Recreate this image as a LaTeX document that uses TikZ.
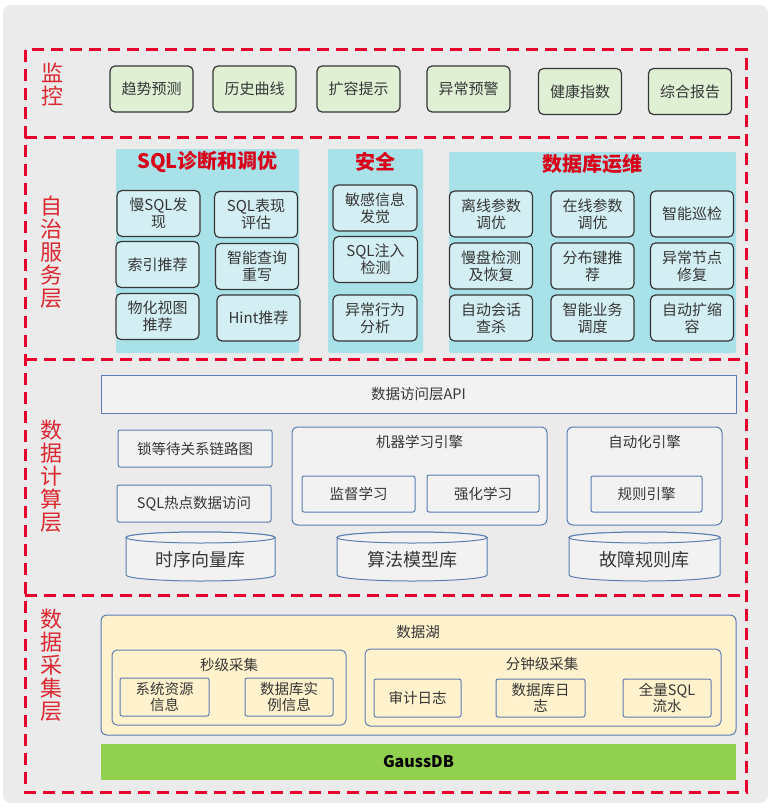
\documentclass[tikz,border=0pt]{standalone}
\usepackage{fontspec}
\setmainfont{Noto Sans CJK SC}
\definecolor{rossotratto}{HTML}{E8002D}
\definecolor{rossolivello}{HTML}{DC2830}
\definecolor{rossotitolo}{HTML}{D80018}
\definecolor{sfondo}{HTML}{EBEBEB}
\definecolor{verdino}{HTML}{DFF0D5}
\definecolor{ciano}{HTML}{A9E1E9}
\definecolor{cianino}{HTML}{D4EFF3}
\definecolor{grigino}{HTML}{F2F2F2}
\definecolor{bluastro}{HTML}{5B7DB3}
\definecolor{crema}{HTML}{FFF2CC}
\definecolor{erba}{HTML}{92D050}
\definecolor{testo}{HTML}{363636}
\begin{document}
\begin{tikzpicture}[x=1pt,y=-1pt,
    livello/.style={text=rossolivello,align=center,font=\fontsize{22}{23}\selectfont},
    tratteggio/.style={draw=rossotratto,line width=3pt,dash pattern=on 12pt off 7pt},
    monbox/.style={draw=testo,fill=verdino,rounded corners=5pt,line width=1.2pt,
        minimum width=83pt,minimum height=46pt,inner sep=1pt,text=testo,
        font=\fontsize{15}{17}\selectfont,align=center},
    autobox/.style={monbox,fill=cianino},
    titolo/.style={text=rossotitolo,font=\fontsize{20}{22}\selectfont\bfseries},
    calcbox/.style={draw=bluastro,fill=grigino,rounded corners=2pt,line width=1pt,
        inner sep=1pt,text=testo,font=\fontsize{14.5}{16}\selectfont,align=center},
    contenitore/.style={calcbox,rounded corners=6pt},
    lagobox/.style={calcbox,fill=crema},
    cil/.style={draw=bluastro,fill=grigino,line width=1pt},
    ciltesto/.style={text=testo,font=\fontsize{18}{20}\selectfont},
    etichetta/.style={text=testo,font=\fontsize{14.5}{16}\selectfont}]
    \useasboundingbox (0,0) rectangle (775,808);
    \fill[sfondo,rounded corners=8pt] (3,5) rectangle (768,803);

    %cornici tratteggiate
    \draw[tratteggio] (25,50) rectangle (746,792);
    \draw[tratteggio] (25,137) -- (746,137);
    \draw[tratteggio] (25,359) -- (746,359);
    \draw[tratteggio] (25,595) -- (746,595);

    %nomi dei livelli
    \node[livello] (lmon) at (52,85) {监\\控};
    \node[livello] (lauto) at (51,252) {自\\治\\服\\务\\层};
    \node[livello] (lcalc) at (51,476) {数\\据\\计\\算\\层};
    \node[livello] (lrac) at (51,665) {数\\据\\采\\集\\层};

    %livello monitoraggio
    \node[monbox] (trend) at (151.5,89) {趋势预测};
    \node[monbox] (storia) at (254.5,89) {历史曲线};
    \node[monbox] (espansione) at (358.5,89) {扩容提示};
    \node[monbox] (allarme) at (468.5,89) {异常预警};
    \node[monbox] (salute) at (580,91.5) {健康指数};
    \node[monbox] (report) at (690,91.5) {综合报告};

    %pannelli servizio autonomo
    \fill[ciano,rounded corners=2pt] (116,149) rectangle (299,353);
    \fill[ciano,rounded corners=2pt] (328,149) rectangle (423,353);
    \fill[ciano,rounded corners=2pt] (449,152) rectangle (736,353);
    \node[titolo] (tsql) at (207.5,162) {SQL诊断和调优};
    \node[titolo] (tsic) at (375.5,162) {安全};
    \node[titolo] (top) at (592,164) {数据库运维};

    %diagnosi sql
    \node[autobox] (lento) at (158.5,213.5) {慢SQL发\\现};
    \node[autobox] (perf) at (256,214.5) {SQL表现\\评估};
    \node[autobox] (indice) at (157.5,264.5) {索引推荐};
    \node[autobox] (riscr) at (257,266.5) {智能查询\\重写};
    \node[autobox] (vista) at (157.5,316.5) {物化视图\\推荐};
    \node[autobox] (hint) at (258.5,318) {Hint推荐};

    %sicurezza
    \node[autobox,minimum width=84pt] (sens) at (375,208) {敏感信息\\发觉};
    \node[autobox,minimum width=84pt] (iniez) at (375.5,259.5) {SQL注入\\检测};
    \node[autobox,minimum width=84pt] (comp) at (375,318) {异常行为\\分析};

    %operazioni database
    \node[autobox] (offline) at (491,214) {离线参数\\调优};
    \node[autobox] (online) at (592.5,214) {在线参数\\调优};
    \node[autobox] (ispez) at (692,214) {智能巡检};
    \node[autobox] (disco) at (491,266) {慢盘检测\\及恢复};
    \node[autobox] (chiave) at (592.5,266) {分布键推\\荐};
    \node[autobox] (nodo) at (692,266) {异常节点\\修复};
    \node[autobox] (sessione) at (491,318) {自动会话\\查杀};
    \node[autobox] (sched) at (592.5,318) {智能业务\\调度};
    \node[autobox] (scala) at (692,318) {自动扩缩\\容};

    %livello calcolo
    \node[calcbox,rounded corners=0pt,minimum width=635pt,minimum height=38pt] (api) at (418.5,394) {数据访问层API};
    \node[calcbox,minimum width=154pt,minimum height=37pt] (lock) at (195,448.5) {锁等待关系链路图};
    \node[calcbox,minimum width=154pt,minimum height=37pt] (hot) at (194,503.5) {SQL热点数据访问};

    \node[contenitore,minimum width=255pt,minimum height=98pt] (ml) at (419.5,476) {};
    \node[etichetta] (tml) at (419.5,442) {机器学习引擎};
    \node[calcbox,minimum width=113pt,minimum height=36pt] (sup) at (358.5,494) {监督学习};
    \node[calcbox,minimum width=112pt,minimum height=37pt] (rinf) at (483,493.5) {强化学习};

    \node[contenitore,minimum width=155pt,minimum height=98pt] (auto) at (644.5,476) {};
    \node[etichetta] (tauto) at (644.5,442) {自动化引擎};
    \node[calcbox,minimum width=111pt,minimum height=36pt] (regole) at (646.5,494) {规则引擎};

    %cilindri
    \draw[cil] (126,537.5) -- (126,575) arc[start angle=180,end angle=0,x radius=74.5,y radius=6]
        -- (275,537.5) arc[start angle=0,end angle=-180,x radius=74.5,y radius=5.5] -- cycle;
    \draw[cil] (200.5,537.5) ellipse[x radius=74.5,y radius=5.5];
    \node[ciltesto] (serie) at (200.5,560) {时序向量库};

    \draw[cil] (337,537.5) -- (337,575) arc[start angle=180,end angle=0,x radius=75,y radius=6]
        -- (487,537.5) arc[start angle=0,end angle=-180,x radius=75,y radius=5.5] -- cycle;
    \draw[cil] (412,537.5) ellipse[x radius=75,y radius=5.5];
    \node[ciltesto] (modelli) at (412,560) {算法模型库};

    \draw[cil] (569,537.5) -- (569,575) arc[start angle=180,end angle=0,x radius=75.5,y radius=6]
        -- (720,537.5) arc[start angle=0,end angle=-180,x radius=75.5,y radius=5.5] -- cycle;
    \draw[cil] (644.5,537.5) ellipse[x radius=75.5,y radius=5.5];
    \node[ciltesto] (guasti) at (644.5,560) {故障规则库};

    %livello raccolta
    \node[lagobox,rounded corners=6pt,minimum width=635pt,minimum height=120pt] (lago) at (418.5,675) {};
    \node[etichetta] (tlago) at (418,632) {数据湖};

    \node[lagobox,rounded corners=5pt,minimum width=234pt,minimum height=75pt] (secondi) at (229,687.5) {};
    \node[etichetta] (tsec) at (229,665) {秒级采集};
    \node[lagobox,minimum width=89pt,minimum height=38pt] (risorse) at (164.5,697) {系统资源\\信息};
    \node[lagobox,minimum width=88pt,minimum height=38pt] (istanza) at (289,697) {数据库实\\例信息};

    \node[lagobox,rounded corners=5pt,minimum width=356pt,minimum height=77pt] (minuti) at (543,687.5) {};
    \node[etichetta] (tmin) at (542,664) {分钟级采集};
    \node[lagobox,minimum width=87pt,minimum height=38pt] (audit) at (417.5,698) {审计日志};
    \node[lagobox,minimum width=89pt,minimum height=38pt] (dblog) at (540.5,698) {数据库日\\志};
    \node[lagobox,minimum width=88pt,minimum height=38pt] (flusso) at (667,698) {全量SQL\\流水};

    %base gaussdb
    \node[fill=erba,minimum width=635pt,minimum height=36pt,inner sep=0pt,
        font=\fontsize{16}{18}\selectfont\bfseries] (gauss) at (418.5,762) {GaussDB};
\end{tikzpicture}
\end{document}
